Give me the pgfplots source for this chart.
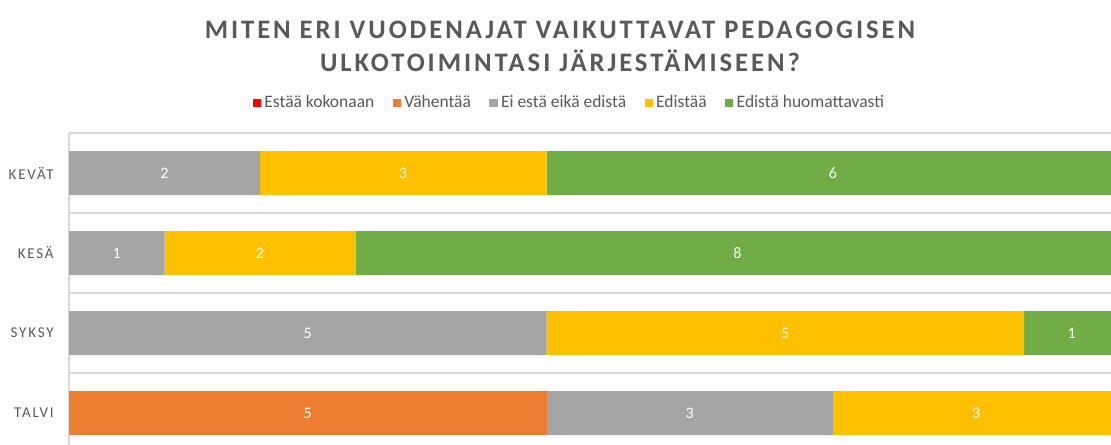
\documentclass[border=0pt]{standalone}
\usepackage{fontspec}
\setmainfont{Carlito}
\newfontfamily\spacedfont[LetterSpace=12]{Carlito}
\newfontfamily\titlefont[LetterSpace=11]{Carlito}
\usepackage{pgfplots}
\usepackage{pgfplotstable}
\pgfplotsset{compat=1.18}

\definecolor{cred}{HTML}{FF0000}
\definecolor{corange}{HTML}{ED7D31}
\definecolor{cgray}{HTML}{A5A5A5}
\definecolor{cgold}{HTML}{FFC000}
\definecolor{cgreen}{HTML}{70AD47}
\definecolor{txtgray}{HTML}{595959}
\definecolor{gridgray}{HTML}{D9D9D9}

% seasons: 0 = KEVAT, 1 = KESA, 2 = SYKSY, 3 = TALVI
\pgfplotstableread{
cat red orange gray gold green
0   0   0      2    3    6
1   0   0      1    2    8
2   0   0      5    5    1
3   0   5      3    3    0
}\seasons

\pgfplotsset{
  sq legend/.style={legend image code/.code={\fill[##1] (0pt,-2.6pt) rectangle (5pt,2.4pt);}},
}

% 1 px of the reference = 0.6pt
\begin{document}
\begin{tikzpicture}
\useasboundingbox (0pt,0pt) rectangle (666.6pt,-267pt);
\clip (0pt,0pt) rectangle (666.6pt,-267pt);

\node[font=\titlefont\bfseries\fontsize{16}{18}\selectfont, text=txtgray, anchor=base]
  at (336pt,-23.4pt) {MITEN ERI VUODENAJAT VAIKUTTAVAT PEDAGOGISEN};
\node[font=\titlefont\bfseries\fontsize{16}{18}\selectfont, text=txtgray, anchor=base]
  at (336pt,-43.2pt) {ULKOTOIMINTASI JÄRJESTÄMISEEN?};

\begin{axis}[
  at={(41.4pt,-79.8pt)}, anchor=north west,
  scale only axis, width=630.3pt, height=192pt,
  xbar stacked, bar width=26.4pt,
  xmin=0, xmax=11, ymin=-0.5, ymax=3.5, y dir=reverse,
  axis x line=none, axis y line*=left,
  axis line style={draw=gridgray, line width=1pt},
  xtick=\empty,
  ytick={0,1,2,3},
  yticklabels={KEVÄT,KESÄ,SYKSY,TALVI},
  minor ytick={-0.5,0.5,1.5,2.5},
  yminorgrids=true,
  minor grid style={draw=gridgray, line width=1pt},
  major tick length=0pt, minor tick length=0pt,
  yticklabel style={font=\spacedfont\fontsize{9}{10}\selectfont, text=txtgray, inner sep=0pt, anchor=east},
  yticklabel shift=9pt,
  point meta=explicit,
  nodes near coords,
  /pgf/number format/assume math mode=true,
  every node near coord/.append style={font=\fontsize{9.6}{10}\selectfont, text=white, anchor=center},
  legend columns=-1,
  legend style={draw=none, fill=none, font=\fontsize{10.5}{12}\selectfont, text=txtgray,
    at={(0.477,1.094)}, anchor=center,
    /tikz/every even column/.append style={column sep=9pt}},
]
\addplot[fill=cred, draw=none, sq legend] table[x=red, y=cat, meta=red] {\seasons};
\addlegendentry{Estää kokonaan}
\addplot[fill=corange, draw=none, sq legend] table[x=orange, y=cat, meta=orange] {\seasons};
\addlegendentry{Vähentää}
\addplot[fill=cgray, draw=none, sq legend] table[x=gray, y=cat, meta=gray] {\seasons};
\addlegendentry{Ei estä eikä edistä}
\addplot[fill=cgold, draw=none, sq legend] table[x=gold, y=cat, meta=gold] {\seasons};
\addlegendentry{Edistää}
\addplot[fill=cgreen, draw=none, sq legend] table[x=green, y=cat, meta=green] {\seasons};
\addlegendentry{Edistä huomattavasti}
\end{axis}
\end{tikzpicture}
\end{document}
